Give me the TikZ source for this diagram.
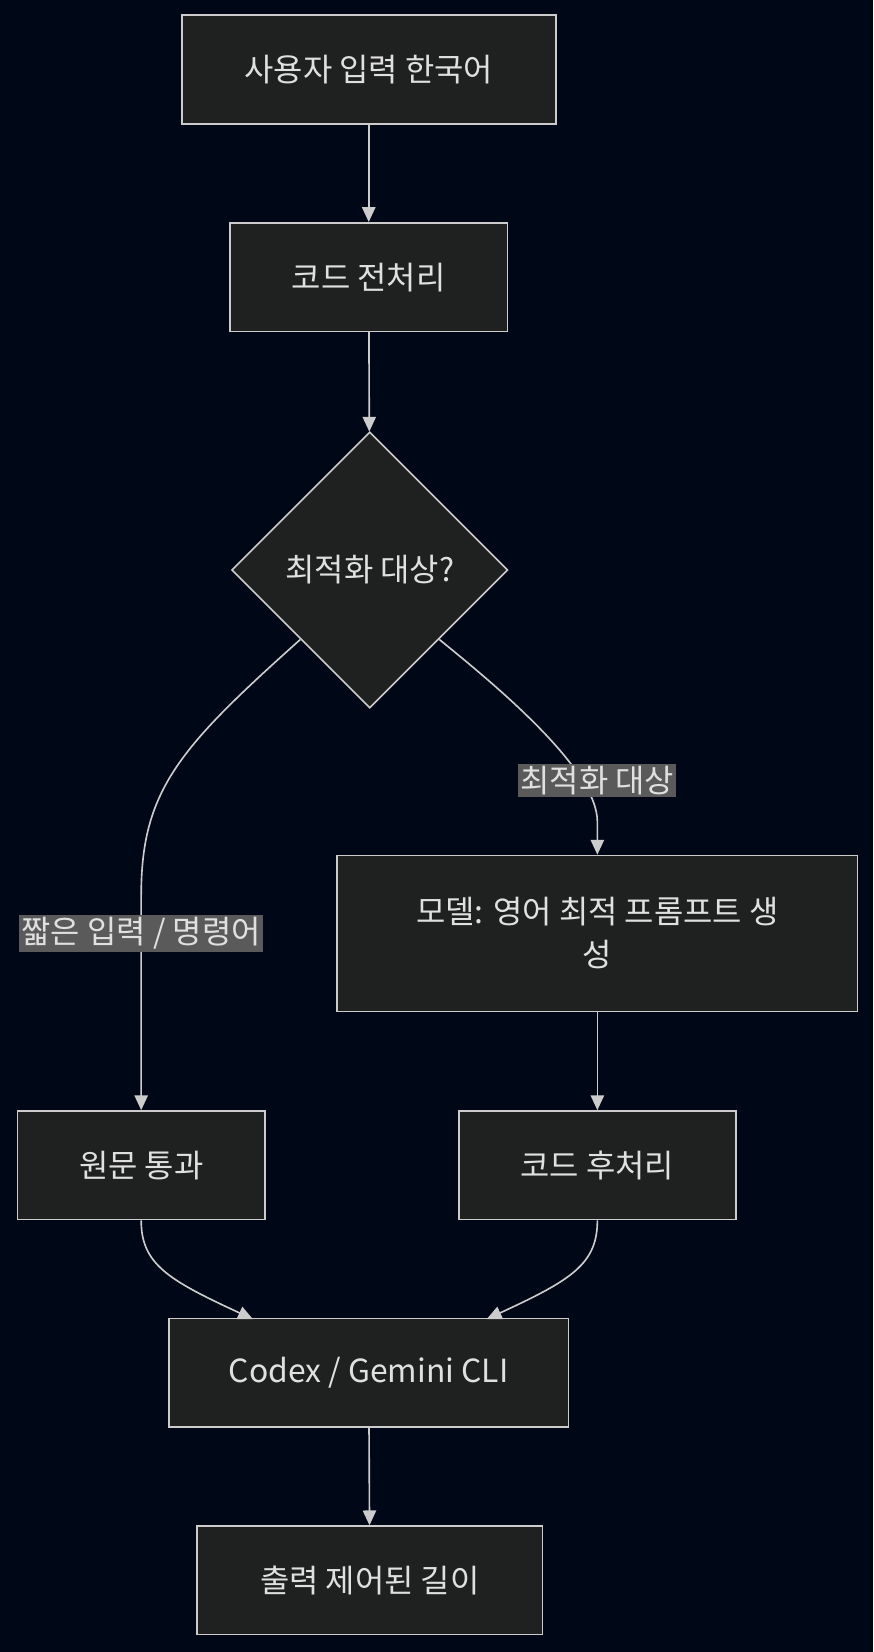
\documentclass[tikz,border=0pt]{standalone}
\usepackage{fontspec}
\setmainfont{Noto Sans CJK KR}
\usetikzlibrary{shapes.geometric, arrows.meta}
\definecolor{bgcol}{HTML}{000818}
\definecolor{boxfill}{HTML}{1F2020}
\definecolor{linecol}{HTML}{CCCCCC}
\definecolor{txtcol}{HTML}{E0E0E0}
\definecolor{lblfill}{HTML}{5A5A5A}

\begin{document}
\begin{tikzpicture}[x=0.025cm, y=-0.025cm,
    font=\fontsize{21.5}{29}\selectfont, text=txtcol,
    box/.style={draw=linecol, fill=boxfill, line width=1.1pt, minimum height=2.575cm},
    decide/.style={diamond, draw=linecol, fill=boxfill, line width=1.1pt, minimum width=6.55cm, minimum height=6.55cm, inner sep=0pt},
    lbl/.style={fill=lblfill, inner sep=1.5pt},
    flow/.style={draw=linecol, line width=1.1pt, -{Triangle[length=10pt, width=9pt]}}]
  \fill[bgcol] (0,0) rectangle (829,1568);
  \useasboundingbox (0,0) rectangle (829,1568);

  \node[box, minimum width=8.875cm] (input) at (350,66) {사용자 입력 한국어};
  \node[box, minimum width=6.575cm] (pre) at (350,263) {코드 전처리};
  \node[decide] (target) at (351,541) {최적화 대상?};
  \node[box, minimum width=12.35cm, minimum height=3.7cm, align=center] (model) at (567,886) {모델: 영어 최적 프롬프트 생\\성};
  \node[box, minimum width=5.875cm] (pass) at (134,1106) {원문 통과};
  \node[box, minimum width=6.575cm] (post) at (567,1106) {코드 후처리};
  \node[box, minimum width=9.475cm] (cli) at (350,1303) {Codex / Gemini CLI};
  \node[box, minimum width=8.2cm] (out) at (351,1500) {출력 제어된 길이};

  \draw[flow] (input) -- (pre);
  \draw[flow] (pre) -- (target);
  \draw[flow] (target.south west) .. controls (170,710) and (134,750) .. (134,850) -- (pass.north);
  \draw[flow] (target.south east) .. controls (470,650) and (567,730) .. (567,780) -- (model.north);
  \draw[flow] (model) -- (post);
  \draw[flow] (pass.south) .. controls (134,1200) and (160,1215) .. (240,1252);
  \draw[flow] (post.south) .. controls (567,1200) and (542,1215) .. (462,1252);
  \draw[flow] (cli) -- (out);

  \node[lbl] (lshort) at (134,886) {짧은 입력 / 명령어};
  \node[lbl] (ltarget) at (567,741) {최적화 대상};
\end{tikzpicture}
\end{document}
